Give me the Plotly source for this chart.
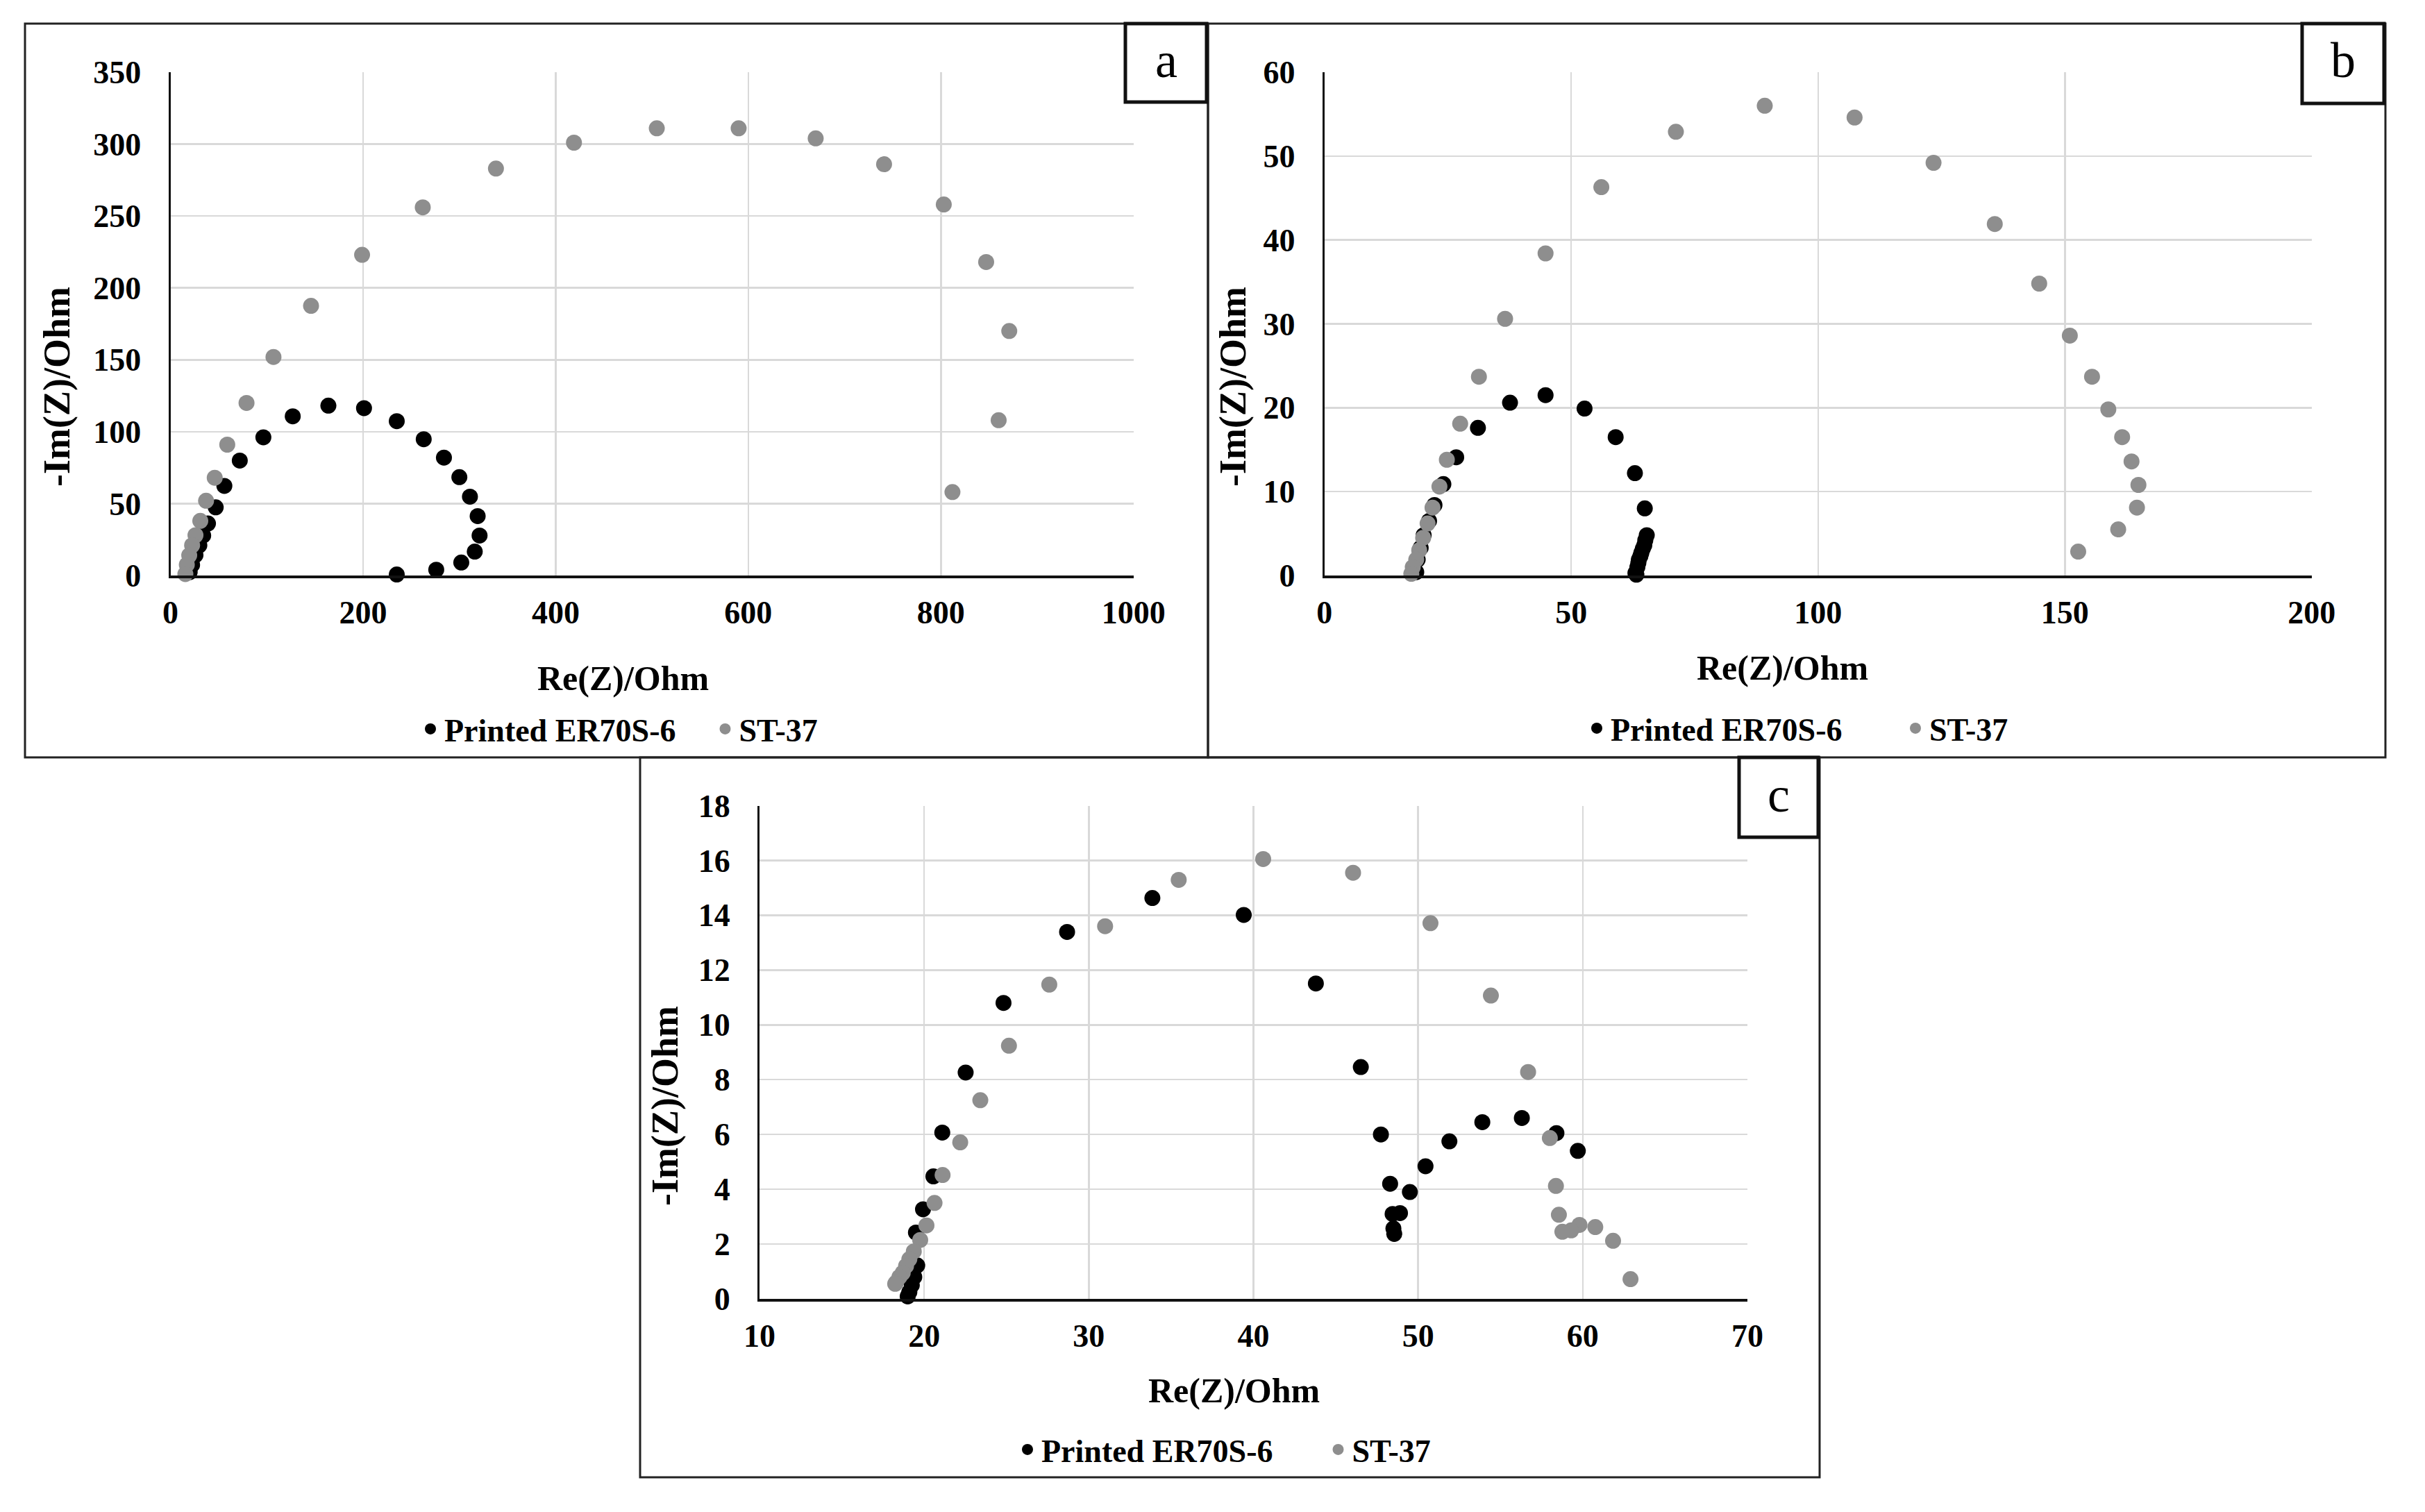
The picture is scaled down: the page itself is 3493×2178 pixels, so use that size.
import plotly.graph_objects as go

W, H = 3493, 2178

# ---------------- data ----------------
series_names = ["Printed ER70S-6", "ST-37"]
panel_labels = ["a", "b", "c"]
x_title = "Re(Z)/Ohm"
y_title = "-Im(Z)/Ohm"

# panel a
a_er_re = [235, 276, 302, 316, 321, 319, 311, 300, 284, 263, 235, 201, 164, 127, 96.5, 72, 56, 47, 39, 34, 30, 26, 22.5, 20]
a_er_im = [0.7, 4, 9, 16.6, 27.8, 41.3, 54.8, 68.4, 82, 94.8, 107.3, 116.4, 118.1, 110.7, 96.1, 79.9, 62.3, 47.4, 36.2, 27.8, 21, 14.2, 7.4, 2.4]
a_st_re = [812, 860, 871, 847, 803, 741, 670, 590, 505, 419, 338, 262, 199, 146, 107, 79, 59, 46, 37, 31, 26, 22.5, 19.5, 17, 15.5]
a_st_im = [58, 108, 170, 218, 258, 286, 304, 311, 311, 301, 283, 256, 223, 187.5, 152, 120, 91, 68, 52, 38, 28, 21, 14, 7.5, 1]

# panel b
b_er_re = [63.0, 63.2, 63.4, 63.6, 63.7, 64.0, 64.2, 64.5, 64.8, 65.0, 65.3, 64.9, 62.9, 59.0, 52.7, 44.8, 37.6, 31.1, 26.7, 24.1, 22.3, 21.2, 20.1, 19.5, 18.9, 18.6]
b_er_im = [0.3, 0.1, 1.0, 1.5, 1.9, 2.3, 2.7, 3.2, 3.6, 4.2, 4.8, 8.0, 12.2, 16.5, 19.9, 21.5, 20.6, 17.6, 14.1, 10.9, 8.4, 6.5, 4.8, 3.3, 1.9, 0.4]
b_st_re = [152.7, 160.8, 164.6, 164.9, 163.5, 161.6, 158.8, 155.5, 151.0, 144.8, 135.8, 123.4, 107.4, 89.2, 71.2, 56.1, 44.8, 36.6, 31.3, 27.5, 24.8, 23.3, 21.9, 20.9, 20.0, 19.2, 18.6, 17.9, 17.6]
b_st_im = [2.85, 5.5, 8.1, 10.8, 13.6, 16.5, 19.8, 23.7, 28.6, 34.8, 41.9, 49.2, 54.6, 56.0, 52.9, 46.3, 38.4, 30.6, 23.7, 18.1, 13.8, 10.6, 8.1, 6.2, 4.5, 3.0, 1.9, 1.0, 0.2]

# panel c
c_er_re = [59.7, 58.4, 56.3, 53.9, 51.9, 50.45, 49.5, 48.9, 48.55, 48.5, 48.45, 48.3, 47.74, 46.52, 43.79, 39.41, 33.86, 28.68, 24.82, 22.52, 21.1, 20.56, 19.93, 19.5, 19.58, 19.4, 19.25, 19.1, 19.0]
c_er_im = [5.4, 6.05, 6.6, 6.45, 5.75, 4.84, 3.9, 3.13, 2.37, 2.57, 3.1, 4.2, 6.0, 8.46, 11.51, 14.01, 14.63, 13.39, 10.8, 8.26, 6.07, 4.47, 3.27, 2.42, 1.22, 0.8, 0.5, 0.25, 0.09]
c_st_re = [62.9, 61.84, 60.76, 59.8, 59.3, 58.76, 58.55, 58.37, 58.0, 56.68, 54.42, 50.75, 46.05, 40.59, 35.46, 30.99, 27.6, 25.15, 23.41, 22.19, 21.12, 20.63, 20.14, 19.76, 19.37, 19.1, 18.9, 18.7, 18.5, 18.3, 18.24]
c_st_im = [0.72, 2.12, 2.62, 2.7, 2.5, 2.45, 3.07, 4.12, 5.87, 8.28, 11.07, 13.71, 15.55, 16.05, 15.29, 13.6, 11.47, 9.24, 7.25, 5.71, 4.52, 3.5, 2.68, 2.15, 1.73, 1.45, 1.2, 0.95, 0.8, 0.6, 0.55]

# axis settings per panel
x_ranges = [[0, 1000], [0, 200], [10, 70]]
y_ranges = [[0, 350], [0, 60], [0, 18]]
x_dticks = [200, 50, 10]
y_dticks = [50, 10, 2]

# ---------------- styling / layout ----------------
FONT = "Liberation Serif"
BLACK = "#000000"
GRAY = "#8e8e8e"
MS = 23
NBSP = "\u00a0"


def PX(x):
    return x / W


def PY(y):
    return 1 - y / H


# plot-area pixel boxes (left, right, top, bottom)
areas = [(245.5, 1632.7, 104, 829), (1907.7, 3329.8, 104, 829), (1094, 2517, 1160.5, 1871)]
legend_ids = ["legend", "legend2", "legend3"]
legend_pad = [4, 7, 6]  # spacing after first legend entry

fig = go.Figure()

data = [
    (a_er_re, a_er_im, a_st_re, a_st_im),
    (b_er_re, b_er_im, b_st_re, b_st_im),
    (c_er_re, c_er_im, c_st_re, c_st_im),
]

for i, (er_x, er_y, st_x, st_y) in enumerate(data):
    xa = "x" if i == 0 else f"x{i+1}"
    ya = "y" if i == 0 else f"y{i+1}"
    fig.add_trace(go.Scatter(x=er_x, y=er_y, mode="markers", name=series_names[0] + NBSP * legend_pad[i],
                             marker=dict(color=BLACK, size=MS, line=dict(width=0)),
                             xaxis=xa, yaxis=ya, cliponaxis=False, legend=legend_ids[i]))
    fig.add_trace(go.Scatter(x=st_x, y=st_y, mode="markers", name=series_names[1],
                             marker=dict(color=GRAY, size=MS, line=dict(width=0)),
                             xaxis=xa, yaxis=ya, cliponaxis=False, legend=legend_ids[i]))

tickfont = dict(family=FONT, size=46, color=BLACK, weight="bold")
layout = dict(
    width=W, height=H, margin=dict(l=0, r=0, t=0, b=0, pad=0, autoexpand=False),
    paper_bgcolor="white", plot_bgcolor="white",
    font=dict(family=FONT, color=BLACK, weight="bold"),
    showlegend=True,
)

for i, (l, r, t, b) in enumerate(areas):
    xk = "xaxis" if i == 0 else f"xaxis{i+1}"
    yk = "yaxis" if i == 0 else f"yaxis{i+1}"
    xa = "x" if i == 0 else f"x{i+1}"
    ya = "y" if i == 0 else f"y{i+1}"
    layout[xk] = dict(domain=[PX(l), PX(r)], range=x_ranges[i], dtick=x_dticks[i], tick0=0,
                      anchor=ya, showgrid=True, gridcolor="#d9d9d9", gridwidth=2.5,
                      showline=True, linecolor="#111111", linewidth=4, zeroline=False,
                      ticks="", tickfont=tickfont, ticklabelstandoff=10, fixedrange=True,
                      automargin=False)
    layout[yk] = dict(domain=[PY(b), PY(t)], range=y_ranges[i], dtick=y_dticks[i], tick0=0,
                      anchor=xa, showgrid=True, gridcolor="#d9d9d9", gridwidth=2.5,
                      showline=True, linecolor="#111111", linewidth=3, zeroline=False,
                      ticks="", tickfont=tickfont, ticklabelstandoff=30, fixedrange=True,
                      automargin=False)

# legends: first marker centre and vertical centre (px)
legend_pos = [(622, 1050), (2302, 1049), (1482, 2088)]
for i, (lx, ly) in enumerate(legend_pos):
    layout[legend_ids[i]] = dict(
        x=PX(lx - 22), y=PY(ly), xanchor="left", yanchor="middle", orientation="h",
        font=dict(family=FONT, size=46, color=BLACK, weight="bold"),
        bgcolor="rgba(0,0,0,0)", borderwidth=0,
        itemclick=False, itemdoubleclick=False,
    )

fig.update_layout(**layout)

# outer panel frames and label boxes
shapes = []
frames = [(36, 34, 1740, 1091), (1740, 34, 3436, 1091), (922, 1091, 2621, 2128)]
for (x0, y0, x1, y1) in frames:
    shapes.append(dict(type="rect", xref="paper", yref="paper", x0=PX(x0), x1=PX(x1), y0=PY(y1), y1=PY(y0),
                       line=dict(color="#222222", width=3), fillcolor="rgba(0,0,0,0)", layer="above"))
label_boxes = [(1621, 34, 1738, 147), (3316, 34, 3434, 149), (2505, 1091, 2619, 1206)]
for (x0, y0, x1, y1) in label_boxes:
    shapes.append(dict(type="rect", xref="paper", yref="paper", x0=PX(x0), x1=PX(x1), y0=PY(y1), y1=PY(y0),
                       line=dict(color="#111111", width=5), fillcolor="white", layer="above"))
fig.update_layout(shapes=shapes)

annotations = []
for (x0, y0, x1, y1), lab in zip(label_boxes, panel_labels):
    annotations.append(dict(text=lab, x=PX((x0 + x1) / 2), y=PY((y0 + y1) / 2 - 4), xref="paper", yref="paper",
                            showarrow=False, xanchor="center", yanchor="middle",
                            font=dict(family=FONT, size=72, color=BLACK, weight="normal")))

xt_pos = [(897, 977), (2567, 962), (1777, 2003)]
yt_pos = [(82, 557), (1776, 557), (958, 1593)]
for (tx, ty) in xt_pos:
    annotations.append(dict(text=x_title, x=PX(tx), y=PY(ty), xref="paper", yref="paper", showarrow=False,
                            xanchor="center", yanchor="middle",
                            font=dict(family=FONT, size=50, color=BLACK, weight="bold")))
for (tx, ty) in yt_pos:
    annotations.append(dict(text=y_title, x=PX(tx), y=PY(ty), xref="paper", yref="paper", showarrow=False,
                            xanchor="center", yanchor="middle", textangle=-90,
                            font=dict(family=FONT, size=54, color=BLACK, weight="bold")))
fig.update_layout(annotations=annotations)

fig.write_html("out.html", config={"staticPlot": True},
               post_script="document.body.style.margin='0';document.body.style.overflow='hidden';")
